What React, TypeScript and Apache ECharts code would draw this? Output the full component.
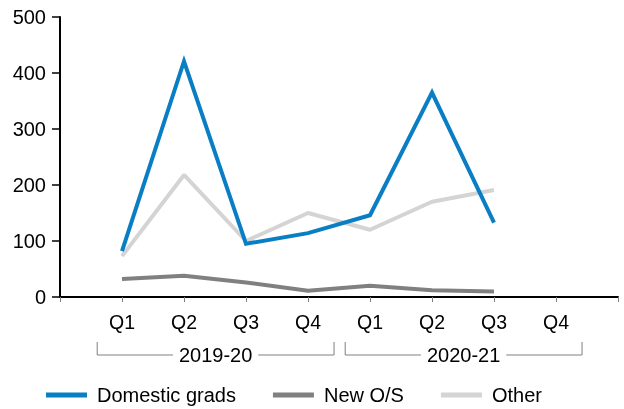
import React, { useEffect, useRef } from "react";
import * as echarts from "echarts";

const categories = ["", "Q1", "Q2", "Q3", "Q4", "Q1", "Q2", "Q3", "Q4", ""];
const domesticGrads = [null, 82, 421, 95, 114, 146, 365, 133, null, null];
const newOS = [null, 32, 38, 26, 11, 20, 12, 10, null, null];
const other = [null, 73, 218, 100, 150, 120, 170, 191, null, null];
const yearLabels = ["2019-20", "2020-21"];
const yearStart = [1, 5];
const yearEnd = [4, 8];
const yTicks = [0, 100, 200, 300, 400, 500];

const FONT = "'Liberation Sans', Arial, sans-serif";

export default function App() {
  const ref = useRef<HTMLDivElement>(null);
  useEffect(() => {
    if (!ref.current) return;
    const chart = echarts.init(ref.current, null, { renderer: "svg" });
    const option: any = {
      animation: false,
      textStyle: { fontFamily: FONT },
      grid: { left: 60, right: 6, top: 17, bottom: 112 },
      xAxis: {
        type: "category",
        data: categories,
        boundaryGap: false,
        axisLine: { lineStyle: { color: "#000", width: 2 } },
        axisTick: { show: true, length: 5, lineStyle: { color: "#808080", width: 1 }, interval: 0 },
        axisLabel: { color: "#000", fontSize: 19.5, fontFamily: FONT, margin: 15, interval: 0 },
        splitLine: { show: false },
      },
      yAxis: {
        type: "value",
        min: yTicks[0],
        max: yTicks[yTicks.length - 1],
        interval: 100,
        axisLine: { show: true, lineStyle: { color: "#000", width: 2 } },
        axisTick: { show: true, length: 8, lineStyle: { color: "#000", width: 1.5 } },
        axisLabel: { color: "#000", fontSize: 20, fontFamily: FONT, margin: 14 },
        splitLine: { show: false },
      },
      legend: {
        left: 41,
        top: 380,
        icon: "rect",
        itemWidth: 41,
        itemHeight: 5,
        itemGap: 37,
        textStyle: { color: "#000", fontSize: 20, fontFamily: FONT, padding: [0, 0, 0, 5] },
        data: ["Domestic grads", "New O/S", "Other"],
      },
      series: [
        {
          name: "Domestic grads",
          type: "line",
          data: domesticGrads,
          showSymbol: false,
          symbol: "none",
          z: 3,
          color: "#0A7EC4",
          lineStyle: { width: 4, color: "#0A7EC4", cap: "butt", join: "miter" },
        },
        {
          name: "New O/S",
          type: "line",
          data: newOS,
          showSymbol: false,
          symbol: "none",
          z: 2,
          color: "#808080",
          lineStyle: { width: 4, color: "#808080", cap: "butt" },
        },
        {
          name: "Other",
          type: "line",
          data: other,
          showSymbol: false,
          symbol: "none",
          z: 1,
          color: "#D4D4D4",
          lineStyle: { width: 4, color: "#D4D4D4", cap: "butt" },
        },
      ],
    };
    chart.setOption(option);

    const y0 = chart.convertToPixel({ yAxisIndex: 0 }, 0) as number;
    const step =
      (chart.convertToPixel({ xAxisIndex: 0 }, 2) as number) -
      (chart.convertToPixel({ xAxisIndex: 0 }, 1) as number);
    const graphics: any[] = [];
    yearLabels.forEach((label, i) => {
      const xa = (chart.convertToPixel({ xAxisIndex: 0 }, yearStart[i]) as number) - step * 0.4;
      const xb = (chart.convertToPixel({ xAxisIndex: 0 }, yearEnd[i]) as number) + step * 0.42;
      const yt = y0 + 45;
      const yb = y0 + 58;
      graphics.push({
        type: "polyline",
        shape: { points: [[xa, yt], [xa, yb], [xb, yb], [xb, yt]] },
        style: { stroke: "#808080", lineWidth: 1, fill: null },
        silent: true,
      });
      graphics.push({
        type: "text",
        x: (xa + xb) / 2,
        y: yb,
        style: {
          text: label,
          fontSize: 20,
          fontFamily: FONT,
          fill: "#000",
          align: "center",
          verticalAlign: "middle",
          backgroundColor: "#fff",
          padding: [0, 6],
        },
        z: 10,
        silent: true,
      });
    });
    chart.setOption({ graphic: graphics });

    return () => chart.dispose();
  }, []);
  return (
    <div
      ref={ref}
      style={{ position: "fixed", left: 0, top: 0, width: 624, height: 409 }}
    />
  );
}
